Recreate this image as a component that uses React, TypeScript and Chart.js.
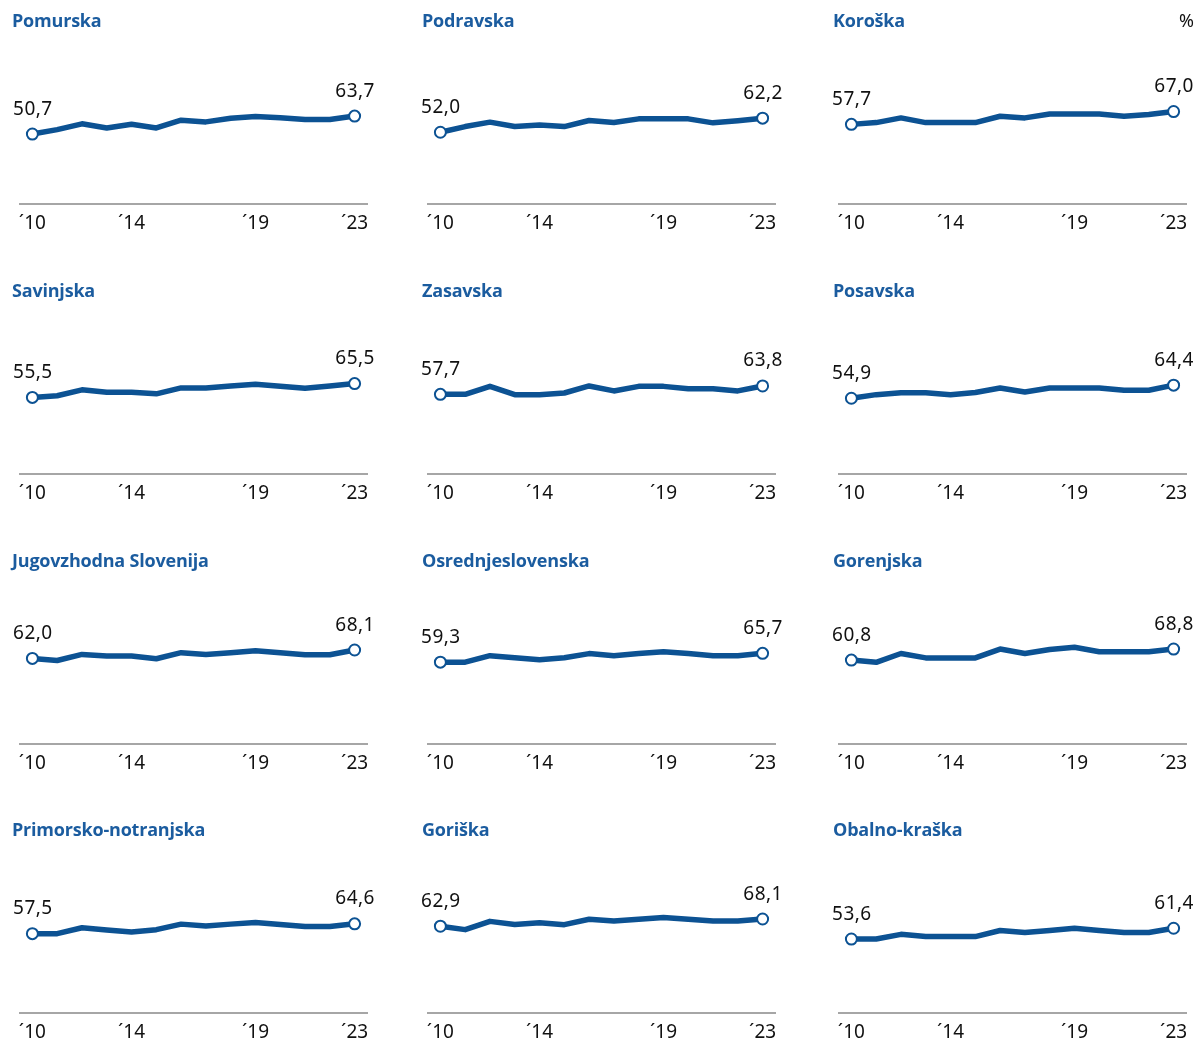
import React, { useEffect, useRef } from "react";
import { Chart, registerables } from "chart.js";

Chart.register(...registerables);

// ---------- data ----------
const years = ["2010", "2011", "2012", "2013", "2014", "2015", "2016", "2017", "2018", "2019", "2020", "2021", "2022", "2023"];
const tickLabels = ["´10", "", "", "", "´14", "", "", "", "", "´19", "", "", "", "´23"];

const regionNames = [
  "Pomurska", "Podravska", "Koroška",
  "Savinjska", "Zasavska", "Posavska",
  "Jugovzhodna Slovenija", "Osrednjeslovenska", "Gorenjska",
  "Primorsko-notranjska", "Goriška", "Obalno-kraška",
];

const pomurska = [50.7, 53.9, 58.1, 55.1, 57.8, 55.1, 60.7, 59.5, 62.2, 63.4, 62.5, 61.2, 61.2, 63.7];
const podravska = [52.0, 56.1, 59.3, 56.1, 57.3, 56.1, 60.5, 59.0, 61.7, 61.7, 61.7, 58.8, 60.3, 62.2];
const koroska = [57.7, 59.0, 62.4, 59.0, 59.0, 59.0, 63.6, 62.4, 65.2, 65.2, 65.2, 63.6, 64.9, 67.0];
const savinjska = [55.5, 56.7, 61.0, 59.3, 59.3, 58.1, 62.4, 62.4, 63.8, 65.0, 63.6, 62.1, 63.8, 65.5];
const zasavska = [57.7, 57.7, 63.5, 57.5, 57.5, 58.7, 63.8, 60.2, 63.5, 63.5, 61.7, 61.7, 60.2, 63.8];
const posavska = [54.9, 57.5, 58.9, 58.9, 57.5, 59.1, 62.3, 59.4, 62.3, 62.3, 62.3, 60.7, 60.7, 64.4];
const jugovzhodna = [62.0, 60.5, 64.9, 63.7, 63.7, 61.8, 66.2, 64.9, 66.2, 67.6, 66.2, 64.7, 64.7, 68.1];
const osrednjeslovenska = [59.3, 59.3, 64.0, 62.5, 61.0, 62.5, 65.5, 64.0, 65.5, 66.9, 65.5, 64.0, 64.0, 65.7];
const gorenjska = [60.8, 59.2, 65.6, 62.4, 62.4, 62.4, 68.8, 65.6, 68.5, 70.1, 66.9, 66.9, 66.9, 68.8];
const primorsko = [57.5, 57.5, 61.8, 60.1, 58.7, 60.4, 64.4, 63.0, 64.4, 65.6, 64.1, 62.7, 62.7, 64.6];
const goriska = [62.9, 60.4, 66.4, 64.2, 65.4, 64.0, 67.9, 66.6, 67.9, 69.2, 67.9, 66.6, 66.6, 68.1];
const obalno = [53.6, 53.6, 57.0, 55.4, 55.4, 55.4, 59.8, 58.3, 59.8, 61.4, 59.8, 58.3, 58.3, 61.4];

const regionSeries = [
  pomurska, podravska, koroska,
  savinjska, zasavska, posavska,
  jugovzhodna, osrednjeslovenska, gorenjska,
  primorsko, goriska, obalno,
];

const unitLabel = "%";

// ---------- styles ----------
const LINE_COLOR = "#0C5293";
const TITLE_COLOR = "#1B5C9F";
const AXIS_COLOR = "#A6A6A6";
const FONT = '"Noto Sans", "Open Sans", sans-serif';

const COL_LEFT = [0, 408, 819];
const TITLE_LEFT = [12, 422, 833];
const ROW_TOP = [0, 270, 540, 809];
const CANVAS_W = 380;
const CANVAS_H = 240;

const fmt = (v: number) => v.toFixed(1).replace(".", ",");

const endLabels = {
  id: "endLabels",
  afterDatasetsDraw(chart: any) {
    const meta = chart.getDatasetMeta(0);
    const data = chart.data.datasets[0].data as number[];
    const ctx = chart.ctx as CanvasRenderingContext2D;
    ctx.save();
    ctx.font = `19px ${FONT}`;
    ctx.fillStyle = "#111111";
    ctx.textAlign = "center";
    ctx.textBaseline = "alphabetic";
    (ctx as any).letterSpacing = "0.5px";
    [0, data.length - 1].forEach((i) => {
      const pt = meta.data[i];
      ctx.fillText(fmt(data[i]), pt.x + 0.5, pt.y - 19.5);
    });
    ctx.restore();
  },
};

function Panel({ values }: { values: number[] }) {
  const ref = useRef<HTMLCanvasElement | null>(null);
  useEffect(() => {
    if (!ref.current) return;
    const last = values.length - 1;
    const chart = new Chart(ref.current, {
      type: "line",
      data: {
        labels: years,
        datasets: [
          {
            data: values,
            borderColor: LINE_COLOR,
            borderWidth: 5.5,
            borderJoinStyle: "round",
            borderCapStyle: "round",
            tension: 0,
            fill: false,
            pointRadius: (c: any) => (c.dataIndex === 0 || c.dataIndex === last ? 5.5 : 0),
            pointBackgroundColor: "#FFFFFF",
            pointBorderColor: LINE_COLOR,
            pointBorderWidth: 2,
            pointHoverRadius: 0,
          },
        ],
      },
      options: {
        responsive: false,
        animation: false,
        events: [],
        layout: { padding: { top: 66, left: 20, right: 13, bottom: 0 } },
        plugins: {
          legend: { display: false },
          title: { display: false },
          tooltip: { enabled: false },
        },
        scales: {
          x: {
            type: "category",
            offset: true,
            grid: { display: false, drawTicks: false },
            border: { display: true, color: AXIS_COLOR, width: 2 },
            ticks: {
              autoSkip: false,
              maxRotation: 0,
              minRotation: 0,
              padding: 8,
              color: "#111111",
              font: { family: FONT, size: 19 },
              callback: (_v: any, i: number) => tickLabels[i],
            },
            afterFit: (s: any) => {
              s.height = 36;
            },
          },
          y: {
            display: false,
            min: 0,
            max: 100,
          },
        },
      },
      plugins: [endLabels],
    });
    return () => chart.destroy();
  }, [values]);
  return <canvas ref={ref} width={CANVAS_W} height={CANVAS_H} style={{ display: "block", width: CANVAS_W, height: CANVAS_H }} />;
}

export default function App() {
  return (
    <div style={{ position: "absolute", left: 0, top: 0, width: 1199, height: 1044, background: "#FFFFFF", overflow: "hidden" }}>
      {regionSeries.map((vals, idx) => {
        const r = Math.floor(idx / 3);
        const c = idx % 3;
        return (
          <React.Fragment key={regionNames[idx]}>
            <div style={{ position: "absolute", left: COL_LEFT[c], top: ROW_TOP[r] }}>
              <Panel values={vals} />
            </div>
            <div
              style={{
                position: "absolute",
                left: TITLE_LEFT[c],
                top: ROW_TOP[r] + 8,
                fontFamily: '"Open Sans", sans-serif',
                fontWeight: 700,
                fontSize: 18,
                lineHeight: "24px",
                letterSpacing: "-0.2px",
                color: TITLE_COLOR,
                whiteSpace: "nowrap",
              }}
            >
              {regionNames[idx]}
            </div>
          </React.Fragment>
        );
      })}
      <div
        style={{
          position: "absolute",
          right: 5,
          top: 8,
          fontFamily: FONT,
          fontSize: 18,
          lineHeight: "24px",
          color: "#111111",
        }}
      >
        {unitLabel}
      </div>
    </div>
  );
}
